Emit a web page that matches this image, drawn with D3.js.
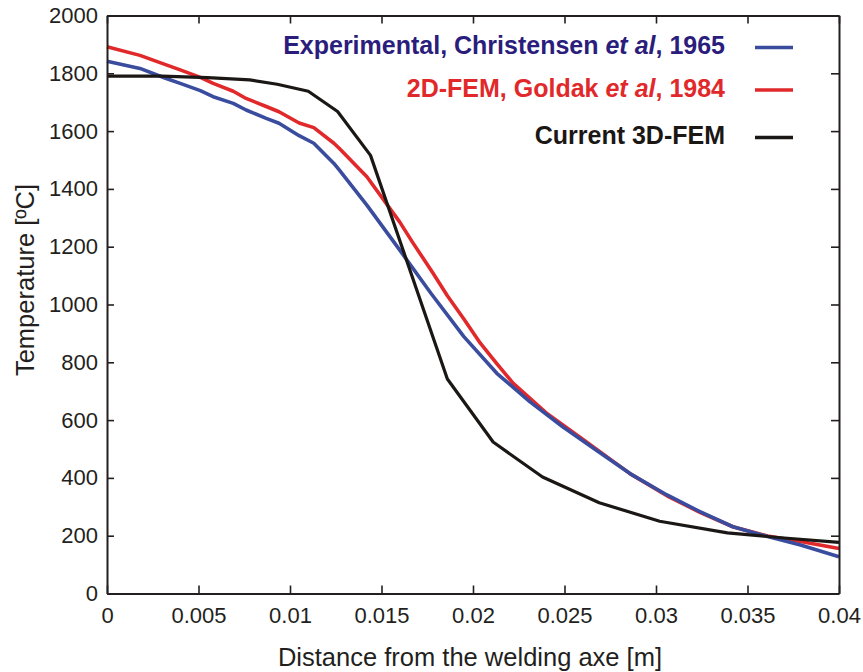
<!DOCTYPE html>
<html><head><meta charset="utf-8">
<script src="https://cdn.jsdelivr.net/npm/d3@7"></script>
<style>body{margin:0;background:#fff}svg{display:block}</style>
</head><body><svg id="c" width="863" height="672"></svg>
<script>
const xTicks = [0, 0.005, 0.01, 0.015, 0.02, 0.025, 0.03, 0.035, 0.04];
const xTickLabels = ["0", "0.005", "0.01", "0.015", "0.02", "0.025", "0.03", "0.035", "0.04"];
const yTicks = [0, 200, 400, 600, 800, 1000, 1200, 1400, 1600, 1800, 2000];

const expX = [0, 0.0018, 0.0032, 0.004, 0.0051, 0.0058, 0.0069, 0.0076, 0.0087, 0.0094, 0.0105, 0.0113, 0.0124, 0.0127, 0.0142, 0.016, 0.0177, 0.0195, 0.0213, 0.0231, 0.0249, 0.0268, 0.0286, 0.0306, 0.0324, 0.0342, 0.0361, 0.0379, 0.04];
const expT = [1842, 1817, 1783, 1765, 1740, 1719, 1696, 1673, 1644, 1627, 1584, 1558, 1488, 1465, 1344, 1188, 1039, 889, 762, 664, 577, 493, 414, 341, 283, 231, 197, 168, 127];

const femX = [0, 0.0018, 0.0032, 0.004, 0.0051, 0.0058, 0.0069, 0.0076, 0.0087, 0.0094, 0.0105, 0.0113, 0.0124, 0.0127, 0.0142, 0.016, 0.0167, 0.0178, 0.0186, 0.0195, 0.0204, 0.0213, 0.0222, 0.024, 0.0259, 0.0268, 0.0286, 0.0306, 0.0324, 0.0342, 0.0361, 0.0379, 0.04];
const femT = [1892, 1862, 1830, 1812, 1786, 1765, 1738, 1713, 1685, 1667, 1628, 1612, 1558, 1540, 1442, 1285, 1215, 1110, 1030, 950, 866, 795, 727, 625, 538, 497, 414, 338, 281, 231, 199, 180, 156];

const curX = [0, 0.003, 0.0055, 0.0078, 0.0093, 0.011, 0.0126, 0.0144, 0.0186, 0.0211, 0.0238, 0.0269, 0.0302, 0.0339, 0.037, 0.04];
const curT = [1790, 1790, 1785, 1777, 1762, 1738, 1668, 1516, 742, 524, 403, 314, 250, 210, 192, 177];

const seriesNames = ["Experimental, Christensen ", "2D-FEM, Goldak ", "Current 3D-FEM"];
const seriesYears = [", 1965", ", 1984", ""];

const svg = d3.select("#c");
const X0 = 107, X1 = 839, Y0 = 593.5, Y1 = 15.5;
const x = d3.scaleLinear().domain([0, 0.04]).range([X0, X1]);
const y = d3.scaleLinear().domain([0, 2000]).range([Y0, Y1]);
const axisColor = "#231f20";
const font = "'Liberation Sans', Arial, Helvetica, sans-serif";

// Data lines
const mk = (xs, ts) => xs.map((v, i) => [v, ts[i]]);
const line = d3.line().x(d => x(d[0])).y(d => y(d[1]));
const g = svg.append("g");
g.append("path").datum(mk(femX, femT)).attr("d", line).attr("fill", "none").attr("stroke", "#e1292b").attr("stroke-width", 3.6).attr("stroke-linejoin", "round");
g.append("path").datum(mk(expX, expT)).attr("d", line).attr("fill", "none").attr("stroke", "#3a4c9e").attr("stroke-width", 3.6).attr("stroke-linejoin", "round");
g.append("path").datum(mk(curX, curT)).attr("d", line).attr("fill", "none").attr("stroke", "#1b1715").attr("stroke-width", 3.2).attr("stroke-linejoin", "round");

// Axes
const axBottom = d3.axisBottom(x).tickValues(xTicks).tickFormat((d, i) => xTickLabels[i]).tickSizeInner(-8).tickSizeOuter(0).tickPadding(14);
const axLeft = d3.axisLeft(y).tickValues(yTicks).tickFormat(d3.format("d")).tickSizeInner(-7).tickSizeOuter(0).tickPadding(9);
const axTop = d3.axisTop(x).tickValues(xTicks).tickFormat("").tickSizeInner(-8).tickSizeOuter(0);
const axRight = d3.axisRight(y).tickValues(yTicks).tickFormat("").tickSizeInner(-8).tickSizeOuter(0);

const ax = [
  svg.append("g").attr("transform", `translate(0,${Y0})`).call(axBottom),
  svg.append("g").attr("transform", `translate(${X0},0)`).call(axLeft),
  svg.append("g").attr("transform", `translate(0,${Y1})`).call(axTop),
  svg.append("g").attr("transform", `translate(${X1},0)`).call(axRight)
];
ax.forEach(a => {
  a.select(".domain").attr("stroke", axisColor).attr("stroke-width", 2);
  a.selectAll(".tick line").attr("stroke", axisColor).attr("stroke-width", 1.6);
  a.selectAll(".tick text").attr("fill", "#231f20").style("font-family", font).style("font-size", "22px");
});
ax[0].selectAll(".tick text").attr("dy", "0.71em");

// Axis titles
svg.append("text").attr("x", 470).attr("y", 666).attr("text-anchor", "middle")
  .style("font-family", font).style("font-size", "25.5px").attr("fill", "#231f20")
  .text("Distance from the welding axe [m]");
svg.append("text").attr("transform", "translate(34,280) rotate(-90)").attr("text-anchor", "middle")
  .style("font-family", font).style("font-size", "25.5px").attr("fill", "#231f20")
  .text("Temperature [ºC]");

// Legend
const legColors = ["#2b1d7c", "#e1292b", "#1b1715"];
const lineColors = ["#3a4c9e", "#e1292b", "#1b1715"];
const legY = [47.5, 90, 137.5];
seriesNames.forEach((n, i) => {
  const t = svg.append("text").attr("x", 725).attr("y", legY[i] + 6.5).attr("text-anchor", "end")
    .style("font-family", font).style("font-size", "25px").style("font-weight", "bold").attr("fill", legColors[i]);
  t.append("tspan").text(n);
  if (i < 2) {
    t.append("tspan").style("font-style", "italic").text("et al");
    t.append("tspan").text(seriesYears[i]);
  }
  svg.append("line").attr("x1", 755).attr("x2", 793).attr("y1", legY[i]).attr("y2", legY[i])
    .attr("stroke", lineColors[i]).attr("stroke-width", 3.6);
});
</script></body></html>
